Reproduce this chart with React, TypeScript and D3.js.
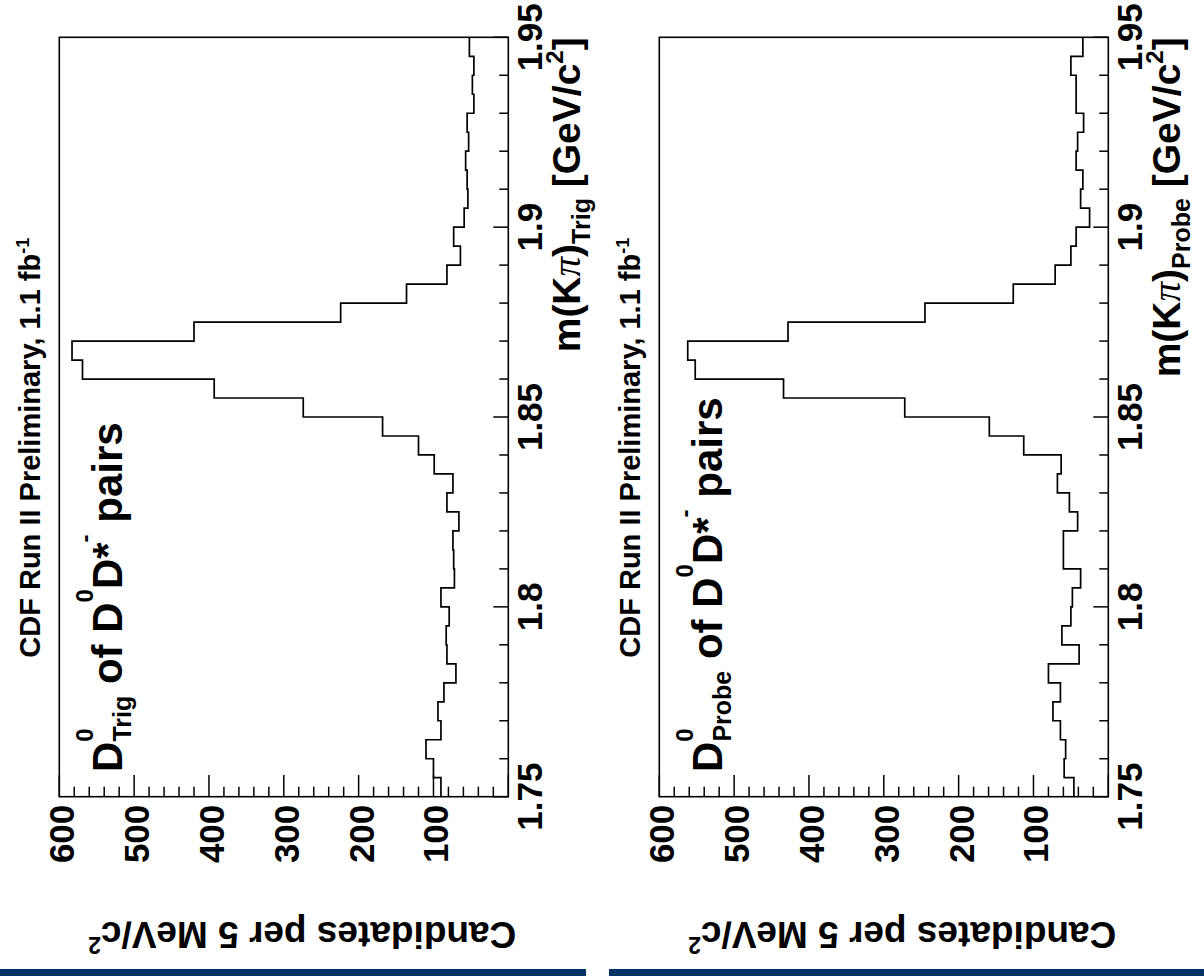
import React from 'react';
import * as d3 from 'd3';

// Invariant-mass binning (GeV/c^2)
const massLow = 1.75;
const massHigh = 1.95;
const binWidth = 0.005;

// Candidates per 5 MeV/c^2 bin, from 1.750 upwards
const trigCounts = [
  90, 100, 110, 90, 94, 86, 70, 82, 83, 79,
  90, 72, 73, 74, 66, 82, 74, 99, 120, 168,
  274, 393, 569, 583, 420, 224, 136, 82, 64, 73,
  59, 54, 55, 57, 53, 55, 46, 48, 46, 52,
];
const probeCounts = [
  46, 59, 57, 64, 74, 64, 80, 39, 62, 50,
  48, 37, 60, 60, 41, 52, 68, 63, 113, 159,
  272, 434, 552, 562, 428, 245, 127, 71, 50, 43,
  25, 37, 34, 43, 41, 33, 43, 43, 50, 34,
];

const massTickValues = d3.range(0, 21).map((i) => +(massLow + i * 0.01).toFixed(2));
const massLabelValues = [1.75, 1.8, 1.85, 1.9, 1.95];
const countTickValues = d3.range(0, 31).map((i) => i * 20);
const countLabelValues = [100, 200, 300, 400, 500, 600];
const countMax = 600;

const panels = [
  { tag: 'Trig', counts: trigCounts, offsetX: 0 },
  { tag: 'Probe', counts: probeCounts, offsetX: 600 },
];

// Frame geometry (unrotated plot: mass along width, counts along height)
const FRAME_LEFT = 59.3;
const FRAME_BOTTOM = 796.7;
const PW = 759.4;
const PH = 449;

const FONT = "'Liberation Sans', Arial, Helvetica, sans-serif";

function Panel({ tag, counts, offsetX }: { tag: string; counts: number[]; offsetX: number }) {
  const x = d3.scaleLinear().domain([massLow, massHigh]).range([0, PW]);
  const y = d3.scaleLinear().domain([0, countMax]).range([PH, 0]);

  const pts: [number, number][] = counts.map((c, i) => [massLow + i * binWidth, c]);
  pts.push([massHigh, counts[counts.length - 1]]);
  const step = d3
    .line<[number, number]>()
    .x((d) => x(d[0]))
    .y((d) => y(d[1]))
    .curve(d3.curveStepAfter);

  const isMajorMass = (m: number) => massLabelValues.some((v) => Math.abs(v - m) < 1e-6);

  return (
    <g
      transform={`translate(${offsetX + FRAME_LEFT},${FRAME_BOTTOM}) rotate(-90)`}
      fontFamily={FONT}
      fontWeight="bold"
      fill="#000"
    >
      {/* histogram */}
      <path d={step(pts) || ''} fill="none" stroke="#000" strokeWidth={1.7} />

      {/* mass axis ticks (bottom, pointing inward) */}
      {massTickValues.map((m) => {
        const len = isMajorMass(m) ? 15 : 9;
        return (
          <line key={`mt${m}`} x1={x(m)} x2={x(m)} y1={PH} y2={PH - len} stroke="#000" strokeWidth={1.5} />
        );
      })}
      {/* count axis ticks (left, pointing inward) */}
      {countTickValues.map((v) => {
        const len = v % 100 === 0 ? 21.7 : 10;
        return <line key={`ct${v}`} x1={0} x2={len} y1={y(v)} y2={y(v)} stroke="#000" strokeWidth={1.5} />;
      })}

      {/* frame */}
      <rect x={0} y={0} width={PW} height={PH} fill="none" stroke="#000" strokeWidth={1.6} />

      {/* mass tick labels */}
      {massLabelValues.map((m) => (
        <text key={`ml${m}`} x={x(m)} y={PH + 34} fontSize={35} textAnchor="middle">
          {String(m)}
        </text>
      ))}
      {/* count tick labels */}
      {countLabelValues.map((v) => (
        <text key={`cl${v}`} x={-8} y={y(v) + 15} fontSize={35} textAnchor="end">
          {String(v)}
        </text>
      ))}

      {/* mass axis title */}
      <text x={PW} y={PH + 72} fontSize={39} textAnchor="end">
        {'m(K'}
        <tspan fontFamily="'Liberation Serif', serif" fontWeight="normal" fontStyle="italic">
          π
        </tspan>
        {')'}
        <tspan dy={10} fontSize={25}>
          {tag}
        </tspan>
        <tspan dy={-10}>{'\u00a0[GeV/c'}</tspan>
        <tspan dy={-17} fontSize={24}>
          2
        </tspan>
        <tspan dy={17}>]</tspan>
      </text>

      {/* count axis title */}
      <text transform={`translate(-125,0) rotate(-90)`} x={-457} fontSize={37} textAnchor="start">
        {'Candidates per 5 MeV/c'}
        <tspan dy={-15} fontSize={23}>
          2
        </tspan>
      </text>

      {/* header */}
      <text x={139} y={-19} fontSize={29}>
        {'CDF Run II Preliminary, 1.1 fb'}
        <tspan dy={-11} fontSize={18}>
          -1
        </tspan>
      </text>

      {/* sample label */}
      <text x={24.7} y={62.7} fontSize={42}>
        D
        <tspan dy={-29} fontSize={24}>
          0
        </tspan>
        <tspan dx={-13.3} dy={38} fontSize={25}>
          {tag}
        </tspan>
        <tspan dy={-9}>{'\u00a0of D'}</tspan>
        <tspan dy={-29} fontSize={24}>
          0
        </tspan>
        <tspan dy={29}>D*</tspan>
        <tspan dy={-29} fontSize={24}>
          -
        </tspan>
        <tspan dy={29}>{'\u00a0pairs'}</tspan>
      </text>
    </g>
  );
}

export default function App() {
  return (
    <svg
      width={1204}
      height={976}
      viewBox="0 0 1204 976"
      style={{ position: 'absolute', left: 0, top: 0, background: '#fff' }}
    >
      <rect x={0} y={0} width={1204} height={976} fill="#fff" />
      {panels.map((p) => (
        <Panel key={p.tag} tag={p.tag} counts={p.counts} offsetX={p.offsetX} />
      ))}
      <rect x={0} y={969} width={586} height={7} fill="#003366" />
      <rect x={609} y={969} width={595} height={7} fill="#003366" />
    </svg>
  );
}
